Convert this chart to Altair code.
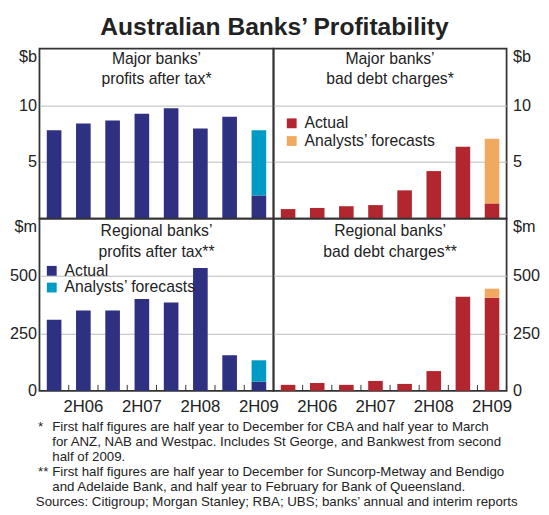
import altair as alt
import pandas as pd

# ---------------- data ----------------
periods = ["1H06", "2H06", "1H07", "2H07", "1H08", "2H08", "1H09", "2H09"]
series = ["Actual", "Analysts’ forecasts"]
shown_x_labels = ["2H06", "2H07", "2H08", "2H09"]

major_profit_actual = [7.8, 8.4, 8.65, 9.25, 9.75, 7.95, 9.0, 2.05]
major_profit_forecast = [0, 0, 0, 0, 0, 0, 0, 5.75]
major_bad_actual = [0.85, 0.95, 1.1, 1.2, 2.5, 4.2, 6.35, 1.35]
major_bad_forecast = [0, 0, 0, 0, 0, 0, 0, 5.7]
regional_profit_actual = [310, 350, 350, 400, 385, 535, 155, 40]
regional_profit_forecast = [0, 0, 0, 0, 0, 0, 0, 93]
regional_bad_actual = [26, 34, 26, 43, 30, 86, 410, 405]
regional_bad_forecast = [0, 0, 0, 0, 0, 0, 0, 40]

ticks_b = [0, 5, 10, 15]
ticks_m = [0, 250, 500, 750]

profit_colors = ["#2e3181", "#009bc4"]
bad_colors = ["#b1262f", "#f1a95f"]

chart_title = "Australian Banks’ Profitability"
title_major_profit = ["Major banks’", "profits after tax*"]
title_major_bad = ["Major banks’", "bad debt charges*"]
title_regional_profit = ["Regional banks’", "profits after tax**"]
title_regional_bad = ["Regional banks’", "bad debt charges**"]

note1_marker = "*"
note1_lines = [
    "First half figures are half year to December for CBA and half year to March",
    "for ANZ, NAB and Westpac. Includes St George, and Bankwest from second",
    "half of 2009.",
]
note2_marker = "**"
note2_lines = [
    "First half figures are half year to December for Suncorp-Metway and Bendigo",
    "and Adelaide Bank, and half year to February for Bank of Queensland.",
]
sources_line = "Sources: Citigroup; Morgan Stanley; RBA; UBS; banks’ annual and interim reports"

# ---------------- style ----------------
FONT = "Liberation Sans"
TXT = "#222222"
W_L, W_R = 238, 237
H_T, H_B = 173, 175


def make_df(actual, forecast):
    rows = []
    for i, p in enumerate(periods):
        rows.append({"period": p, "type": series[0], "value": actual[i], "ord": 0})
        if forecast[i]:
            rows.append({"period": p, "type": series[1], "value": forecast[i], "ord": 1})
    return pd.DataFrame(rows)


one_row = pd.DataFrame({"k": [0]})


def text_layer(lines, x, y, size, align="left", line_height=None):
    kw = dict(font=FONT, fontSize=size, color=TXT, align=align, baseline="alphabetic")
    if line_height:
        kw["lineHeight"] = line_height
    return alt.Chart(one_row).mark_text(**kw).encode(
        x=alt.value(x), y=alt.value(y), text=alt.value(lines)
    )


def panel(df, title_lines, title_y, colors, ticks, unit, hide_zero, orient,
          width, height, bottom, legend_xy=None, rowpad=2, extra=None):
    ymax = ticks[-1]
    step = width / len(periods)
    xscale = alt.Scale(domain=periods, paddingInner=0.5, paddingOuter=0.25)
    if bottom:
        arr = "[" + ",".join("'%s'" % s for s in shown_x_labels) + "]"
        xaxis = alt.Axis(
            title=None, orient="bottom", domain=False, ticks=False, tickSize=0,
            labelAngle=0, labelFont=FONT, labelFontSize=17, labelColor=TXT,
            labelPadding=8,
            labelExpr="indexof(%s, datum.value) >= 0 ? datum.label : ''" % arr,
        )
    else:
        xaxis = None
    zero = "" if hide_zero else "0"
    yaxis = alt.Axis(
        title=None, orient=orient, values=ticks, domain=False, ticks=False,
        tickSize=0, labelFont=FONT, labelFontSize=16.5, labelColor=TXT,
        labelPadding=3 if orient == "left" else 6, format="d",
        labelExpr="datum.value == %s ? '%s' : (datum.value == 0 ? '%s' : datum.label)"
        % (ymax, unit, zero),
        labelBaseline={"condition": {"test": "datum.value == %s" % ymax, "value": "top"},
                       "value": "middle"},
        grid=True, gridColor="#bbbbbb", gridWidth=1,
        gridOpacity={"condition": {"test": "datum.value == 0 || datum.value == %s" % ymax,
                                   "value": 0}, "value": 1},
    )
    if legend_xy:
        legend = alt.Legend(
            orient="none", legendX=legend_xy[0], legendY=legend_xy[1], title=None,
            symbolType="square", symbolSize=100, symbolStrokeWidth=0,
            symbolOpacity=1, labelFont=FONT, labelFontSize=16, labelColor=TXT,
            labelOffset=5, rowPadding=rowpad, padding=0, labelLimit=400,
        )
    else:
        legend = None
    bars = alt.Chart(df).mark_bar().encode(
        x=alt.X("period:N", scale=xscale, axis=xaxis, sort=periods),
        y=alt.Y("value:Q", stack="zero",
                scale=alt.Scale(domain=[0, ymax], nice=False, zero=True), axis=yaxis),
        color=alt.Color("type:N", scale=alt.Scale(domain=series, range=colors), legend=legend),
        order=alt.Order("ord:Q", sort="ascending"),
    )
    layers = [bars]
    if bottom:
        rules = alt.Chart(pd.DataFrame({"period": periods})).mark_rule(
            color="#333333", strokeWidth=1, xOffset=step / 2
        ).encode(
            x=alt.X("period:N", scale=xscale, axis=xaxis, sort=periods),
            y=alt.value(height - 6), y2=alt.value(height),
        )
        layers.append(rules)
    layers.append(text_layer(title_lines, width / 2, title_y, 16, align="center", line_height=20.5))
    if extra:
        layers.extend(extra)
    return alt.layer(*layers).properties(width=width, height=height)


FN = 13.5
foot = [
    text_layer(note1_marker, -1.5, H_B + 40.5, FN),
    text_layer(note1_lines, 13, H_B + 40.5, FN, line_height=15.3),
    text_layer(note2_marker, -1.5, H_B + 86.5, FN),
    text_layer(note2_lines, 13, H_B + 86.5, FN, line_height=15.3),
    text_layer(sources_line, -3.7, H_B + 117, FN),
]

tl = panel(make_df(major_profit_actual, major_profit_forecast), title_major_profit, 16,
           profit_colors, ticks_b, "$b", True, "left", W_L, H_T, False)
tr = panel(make_df(major_bad_actual, major_bad_forecast), title_major_bad, 16,
           bad_colors, ticks_b, "$b", True, "right", W_R, H_T, False,
           legend_xy=(10.5, 68), rowpad=2)
bl = panel(make_df(regional_profit_actual, regional_profit_forecast), title_regional_profit, 18,
           profit_colors, ticks_m, "$m", False, "left", W_L, H_B, True,
           legend_xy=(4.5, 45), rowpad=1, extra=foot)
br = panel(make_df(regional_bad_actual, regional_bad_forecast), title_regional_bad, 18,
           bad_colors, ticks_m, "$m", False, "right", W_R, H_B, True)

chart = (
    alt.concat(tl, tr, bl, br, columns=2, spacing=0, bounds="flush")
    .resolve_scale(color="independent")
    .properties(
        title=alt.Title(chart_title, fontSize=25, font=FONT, fontWeight="bold",
                        color=TXT, anchor="middle", offset=8),
        padding={"left": 0, "top": 3, "right": 0, "bottom": 0},
    )
    .configure(font=FONT)
    .configure_view(stroke="#333333", strokeWidth=1.8)
)

chart.save("out.html", embed_options={"renderer": "svg", "actions": False})
